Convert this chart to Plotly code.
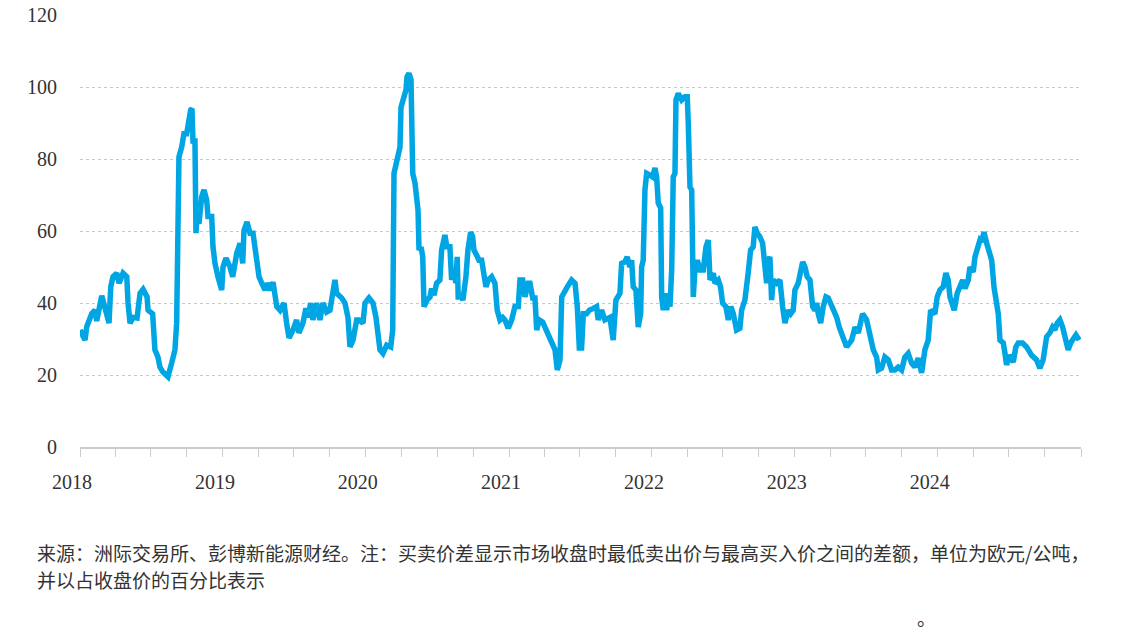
import numpy as np
import pandas as pd
import plotly.graph_objects as go

t_years = [
    0.000, 0.035, 0.047, 0.082, 0.105, 0.117, 0.152, 0.175, 0.203, 0.215,
    0.231, 0.257, 0.273, 0.301, 0.327, 0.336, 0.350, 0.371, 0.399, 0.420,
    0.441, 0.469, 0.476, 0.508, 0.524, 0.545, 0.559, 0.580, 0.615, 0.641,
    0.664, 0.676, 0.685, 0.692, 0.711, 0.727, 0.746, 0.755, 0.774, 0.783,
    0.790, 0.804, 0.811, 0.818, 0.832, 0.851, 0.867, 0.886, 0.895, 0.921,
    0.930, 0.944, 0.965, 0.991, 1.000, 1.021, 1.049, 1.068, 1.096, 1.119,
    1.138, 1.147, 1.168, 1.189, 1.210, 1.236, 1.252, 1.271, 1.294, 1.308,
    1.329, 1.350, 1.376, 1.399, 1.427, 1.445, 1.462, 1.490, 1.515, 1.531,
    1.559, 1.580, 1.594, 1.613, 1.629, 1.655, 1.678, 1.699, 1.725, 1.748,
    1.769, 1.783, 1.795, 1.830, 1.853, 1.874, 1.888, 1.909, 1.935,
    1.951, 1.979, 1.993, 2.021, 2.049, 2.070, 2.084, 2.098, 2.119, 2.145,
    2.173, 2.187, 2.196, 2.210, 2.222, 2.238, 2.245, 2.259, 2.280, 2.287,
    2.301, 2.315, 2.322, 2.327, 2.343, 2.350, 2.364, 2.371, 2.385, 2.397,
    2.406, 2.427, 2.448, 2.459, 2.476, 2.494, 2.517, 2.529, 2.552, 2.566,
    2.587, 2.599, 2.615, 2.629, 2.638, 2.645, 2.669, 2.678, 2.699, 2.713,
    2.732, 2.746, 2.755, 2.774, 2.790, 2.809, 2.820, 2.839, 2.855, 2.879,
    2.902, 2.918, 2.937, 2.956, 2.972, 2.995, 3.019, 3.042, 3.065, 3.077,
    3.096, 3.112, 3.135, 3.147, 3.166, 3.182, 3.194, 3.212, 3.236, 3.252,
    3.275, 3.299, 3.322, 3.338, 3.357, 3.369, 3.392, 3.408, 3.438, 3.462,
    3.478, 3.492, 3.508, 3.520, 3.543, 3.562, 3.590, 3.613, 3.624,
    3.648, 3.671, 3.706, 3.729, 3.748, 3.776, 3.788, 3.811, 3.827, 3.846,
    3.858, 3.869, 3.888, 3.904, 3.921, 3.928, 3.939, 3.951, 3.963, 3.986,
    4.005, 4.021, 4.033, 4.044, 4.061, 4.068, 4.079, 4.091, 4.103, 4.114,
    4.126, 4.138, 4.149, 4.161, 4.168, 4.184, 4.208, 4.231, 4.247, 4.254,
    4.266, 4.278, 4.289, 4.301, 4.317, 4.336, 4.359, 4.378, 4.394, 4.406,
    4.429, 4.441, 4.464, 4.480, 4.494, 4.517, 4.534, 4.552, 4.569, 4.592,
    4.615, 4.627, 4.650, 4.673, 4.690, 4.708, 4.720, 4.736, 4.755, 4.774,
    4.790, 4.802, 4.813, 4.825, 4.837, 4.848, 4.872, 4.895, 4.914, 4.930,
    4.953, 4.970, 4.988, 5.000, 5.023, 5.035, 5.054, 5.070, 5.086, 5.105,
    5.124, 5.140, 5.152, 5.163, 5.180, 5.198, 5.217, 5.233, 5.250, 5.268,
    5.292, 5.310,
    5.338, 5.361, 5.397, 5.420, 5.443, 5.473, 5.501, 5.524, 5.548, 5.571,
    5.583, 5.606, 5.629, 5.653, 5.676, 5.699, 5.722, 5.746, 5.769, 5.792,
    5.816, 5.839, 5.862, 5.886, 5.909, 5.932, 5.949, 5.979, 5.995, 6.014,
    6.037, 6.056, 6.072, 6.084, 6.114, 6.135, 6.154, 6.173, 6.189, 6.212,
    6.224, 6.247, 6.259, 6.275, 6.294, 6.306, 6.322, 6.341, 6.364, 6.376,
    6.392, 6.406, 6.422, 6.434, 6.457, 6.469, 6.480, 6.499, 6.515, 6.527,
    6.545, 6.562, 6.592, 6.620, 6.655, 6.690, 6.713, 6.736, 6.760, 6.783,
    6.802, 6.818, 6.834, 6.853, 6.872, 6.888, 6.911, 6.928, 6.946, 6.965,
    6.988,
]

# Bid-ask spread as % of closing price
spread_pct = [
    32.5, 29.7, 33.4, 37.0, 38.0, 35.0, 42.0, 39.0, 34.4, 44.5,
    47.3, 48.3, 45.5, 48.3, 47.3, 40.0, 34.4, 36.0, 35.8, 42.7,
    43.8, 41.7, 38.0, 37.0, 27.0, 25.0, 22.2, 20.8, 19.5, 23.3,
    27.0, 34.4, 57.0, 80.6, 83.3, 87.0, 87.0, 90.0, 93.6, 94.0,
    85.0, 85.0, 59.4, 64.0, 62.0, 69.5, 71.4, 68.6, 64.0, 64.0,
    55.6, 51.0, 47.3, 43.6, 50.0, 52.5, 50.0, 47.3, 53.8, 56.6,
    51.0, 60.2, 62.5, 59.4, 59.4, 52.0, 47.3, 45.5, 43.6, 45.5,
    43.6, 45.8, 39.0, 38.0, 40.0, 34.4, 30.3, 32.5, 35.3, 31.7,
    34.4, 38.5, 36.0, 40.0, 35.3, 40.0, 35.3, 40.0, 37.5, 38.0,
    43.6, 46.4, 42.7, 41.4, 40.0, 36.0, 27.8, 29.7, 35.3,
    35.3, 34.4, 40.0, 41.4, 40.0, 36.0, 32.5, 27.0, 26.0, 28.3,
    27.8, 32.5, 76.0, 78.7, 80.6, 83.3, 94.4, 96.4, 99.2, 102.8,
    103.8, 102.0, 93.6, 76.0, 73.3, 69.5, 65.8, 54.7, 55.6, 52.8,
    39.0, 40.8, 41.7, 44.0, 42.2, 45.5, 46.4, 54.7, 58.9, 55.6,
    55.6, 46.4, 49.2, 45.5, 52.8, 41.7, 41.7, 40.8, 47.3, 54.7,
    59.7, 58.4, 54.7, 53.3, 51.9, 51.9, 48.3, 44.5, 46.4, 47.3,
    45.5, 38.0, 35.3, 36.0, 35.3, 33.0, 35.3, 39.0, 39.0, 46.4,
    46.4, 41.7, 45.5, 45.5, 41.4, 41.4, 32.5, 35.3, 34.7, 33.3,
    31.1, 29.2, 27.0, 21.4, 24.2, 41.7, 43.0, 44.5, 46.4, 45.5,
    39.0, 27.5, 27.5, 37.0, 37.0, 38.0, 38.5, 39.0, 35.3,
    38.0, 35.3, 36.0, 29.7, 40.8, 42.7, 51.0, 51.4, 52.8, 50.0,
    51.9, 44.5, 43.6, 33.3, 37.0, 50.0, 51.9, 71.4, 76.0, 75.5,
    75.0, 77.5, 75.0, 67.8, 66.4, 41.7, 38.0, 42.7, 38.0, 40.8,
    39.0, 49.2, 75.0, 76.0, 96.4, 98.2, 96.4, 97.3, 97.3, 90.0,
    72.2, 71.4, 41.7, 49.2, 51.9, 49.2, 49.2, 55.6, 57.5, 46.4,
    48.3, 45.5, 46.4, 44.5, 40.0, 39.0, 35.3, 39.0, 37.0, 32.5,
    33.0, 38.0, 40.8, 48.3, 54.7, 55.6, 61.1, 59.4, 58.4, 56.6,
    50.0, 45.5, 51.9, 52.8, 40.8, 46.4, 45.5, 46.4, 39.0, 34.4,
    38.0, 37.0, 38.0, 43.6, 45.5, 47.3, 51.4, 50.0, 47.3, 46.4,
    39.0, 38.0, 40.0, 37.0, 34.4, 39.0, 41.7, 41.4, 40.0, 38.0,
    36.0, 33.3,
    29.7, 27.8, 29.7, 33.3, 31.7, 37.0, 35.3, 30.6, 27.0, 25.0,
    21.4, 21.9, 25.0, 24.2, 21.4, 21.4, 22.2, 21.4, 25.0, 26.0,
    23.3, 22.2, 24.7, 20.6, 27.0, 29.7, 38.0, 37.0, 41.7, 43.6,
    44.5, 48.3, 46.4, 41.7, 38.0, 42.7, 44.5, 46.4, 44.0, 46.4,
    50.0, 48.6, 52.8, 55.6, 57.5, 57.0, 59.7, 56.6, 53.8, 51.9,
    44.5, 40.0, 37.0, 29.7, 28.9, 26.0, 22.8, 25.5, 24.2, 23.6,
    27.8, 28.9, 28.9, 27.8, 25.5, 24.2, 21.9, 24.2, 30.6, 31.7,
    33.3, 32.5, 34.4, 35.3, 33.3, 30.6, 27.0, 28.9, 29.7, 31.1,
    29.7,
]

year_ticks = ["2018-01-01", "2019-01-01", "2020-01-01", "2021-01-01",
              "2022-01-01", "2023-01-01", "2024-01-01"]
year_labels = ["2018", "2019", "2020", "2021", "2022", "2023", "2024"]
y_ticks = [0, 20, 40, 60, 80, 100, 120]

note_line1 = "来源：洲际交易所、彭博新能源财经。注：买卖价差显示市场收盘时最低卖出价与最高买入价之间的差额，单位为欧元/公吨，"
note_line2 = "并以占收盘价的百分比表示"

dates = pd.Timestamp("2018-01-01") + pd.to_timedelta(np.array(t_years) * 365.25, unit="D")

fig = go.Figure()
fig.add_trace(go.Scatter(
    x=dates, y=spread_pct, mode="lines",
    line=dict(color="#00a5e3", width=5.5, shape="linear"),
    hoverinfo="skip", showlegend=False, cliponaxis=False,
))

num_font = dict(family="Liberation Serif, serif", size=20, color="#333333")

fig.update_layout(
    template="none",
    width=1135, height=636,
    margin=dict(l=80, r=54, t=15, b=189, pad=0),
    paper_bgcolor="white", plot_bgcolor="white",
    xaxis=dict(
        type="date", automargin=False,
        range=["2018-01-01", "2025-01-01"],
        tickmode="array", tickvals=year_ticks, ticktext=year_labels,
        ticks="outside", ticklen=8, tickcolor="#cccccc", tickwidth=1,
        minor=dict(dtick="M3", tick0="2018-01-01", ticks="outside",
                   ticklen=8, tickcolor="#cccccc", tickwidth=1, showgrid=False),
        showgrid=False, zeroline=False,
        showline=True, linecolor="#cccccc", linewidth=1.5,
        tickfont=num_font, ticklabelshift=-8, ticklabelstandoff=8,
        fixedrange=True,
    ),
    yaxis=dict(
        range=[0, 120], tickmode="array", tickvals=y_ticks, automargin=False,
        showgrid=True, gridcolor="#c8c8c8", gridwidth=1, griddash="dot",
        zeroline=False, showline=False, ticks="",
        tickfont=num_font, ticklabelstandoff=22,
        fixedrange=True,
    ),
)

cjk_font = dict(family="Noto Sans CJK SC", size=19, color="#333333")
fig.add_annotation(xref="paper", yref="paper", x=-45 / 1001, y=-90 / 432,
                   xanchor="left", yanchor="top", text=note_line1,
                   showarrow=False, font=cjk_font, align="left")
fig.add_annotation(xref="paper", yref="paper", x=-45 / 1001, y=-117 / 432,
                   xanchor="left", yanchor="top", text=note_line2,
                   showarrow=False, font=cjk_font, align="left")
fig.add_annotation(xref="paper", yref="paper", x=835 / 1001, y=-155 / 432,
                   xanchor="left", yanchor="top", text="。",
                   showarrow=False, font=cjk_font, align="left")

fig.write_html("out.html")
